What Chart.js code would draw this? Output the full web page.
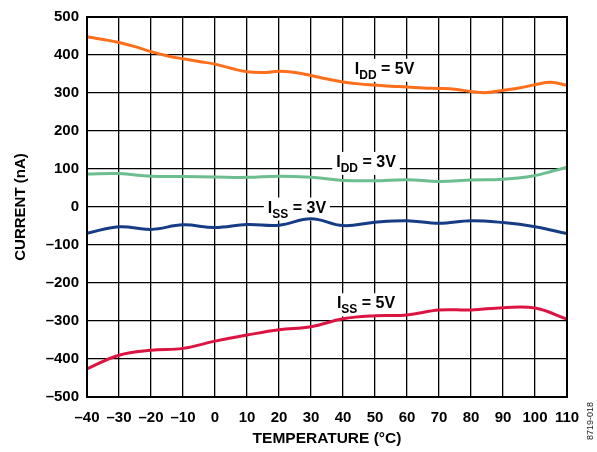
<!DOCTYPE html>
<html>
<head>
<meta charset="utf-8">
<script src="https://cdn.jsdelivr.net/npm/chart.js@4/dist/chart.umd.min.js"></script>
<style>
  html, body { margin: 0; padding: 0; background: #fff; }
  #wrap { width: 597px; height: 452px; position: relative; }
</style>
</head>
<body>
<div id="wrap"><canvas id="c" width="597" height="452"></canvas></div>
<script>
// Temperature sweep (°C)
const tempsFine = [-40,-35,-30,-25,-20,-15,-10,-5,0,5,10,15,20,25,30,35,40,45,50,55,60,65,70,75,80,85,90,95,100,105,110];
const temps = [-40,-30,-20,-10,0,10,20,30,40,50,60,70,80,90,100,110];

// Supply / ground currents (nA)
const idd5V = [448,441,433,422,409,398,390,383,376,365,356,354,357,354,346,337,329,324,321,318,316,313,312,310,304,301,307,313,322,328,320];
const idd3V = [87,88,81,80,79,78,81,78,70,69,72,67,71,73,83,105];
const iss3V = [-69,-52,-59,-47,-54,-46,-48,-31,-49,-40,-36,-43,-36,-41,-52,-70];
const iss5V = [-426,-390,-377,-372,-353,-337,-323,-315,-294,-286,-284,-271,-271,-265,-266,-295];

// Axis ranges
const yTicks = { min: -500, max: 500, step: 100 };
const xTicks = { min: -40, max: 110, step: 10 };

// Curve captions: I + subscript + rest, anchored at (temperature, current)
const captions = [
  { main: 'I', sub: 'DD', rest: ' = 5V', t: 53,   v: 361 },
  { main: 'I', sub: 'DD', rest: ' = 3V', t: 47.2, v: 116 },
  { main: 'I', sub: 'SS', rest: ' = 3V', t: 25.6, v: -4 },
  { main: 'I', sub: 'SS', rest: ' = 5V', t: 47.2, v: -256 }
];

const FONT = '"Liberation Sans", Arial, sans-serif';
const fmt = v => v < 0 ? '\u2013' + Math.abs(v) : String(v);
const pts = (xs, ys) => xs.map((x, i) => ({ x: x, y: ys[i] }));

const frame = {
  id: 'frame',
  afterDatasetsDraw(chart) {
    const { ctx, chartArea: a } = chart;
    ctx.save();
    ctx.strokeStyle = '#000';
    ctx.lineWidth = 2;
    ctx.strokeRect(a.left, a.top, a.right - a.left, a.bottom - a.top);
    ctx.restore();
  }
};

function measureCaption(ctx, c) {
  ctx.font = 'bold 16px ' + FONT;
  const w1 = ctx.measureText(c.main).width;
  const w3 = ctx.measureText(c.rest).width;
  ctx.font = 'bold 12px ' + FONT;
  const w2 = ctx.measureText(c.sub).width;
  return { w1, w2, w3, total: w1 + w2 + w3 };
}

const captionPlugin = {
  id: 'captions',
  beforeDatasetsDraw(chart) {
    const { ctx, scales } = chart;
    ctx.save();
    captions.forEach(c => {
      const cx = scales.x.getPixelForValue(c.t);
      const cy = scales.y.getPixelForValue(c.v);
      const m = measureCaption(ctx, c);
      ctx.fillStyle = '#fff';
      ctx.fillRect(cx - m.total / 2 - 4, cy - 11, m.total + 8, 23);
    });
    ctx.restore();
  },
  afterDatasetsDraw(chart) {
    const { ctx, scales } = chart;
    ctx.save();
    ctx.fillStyle = '#000';
    ctx.textBaseline = 'alphabetic';
    ctx.textAlign = 'left';
    captions.forEach(c => {
      const cx = scales.x.getPixelForValue(c.t);
      const cy = scales.y.getPixelForValue(c.v);
      const m = measureCaption(ctx, c);
      let x = cx - m.total / 2;
      const base = cy + 4;
      ctx.font = 'bold 16px ' + FONT;
      ctx.fillText(c.main, x, base);
      x += m.w1;
      ctx.font = 'bold 12px ' + FONT;
      ctx.fillText(c.sub, x, base + 5);
      x += m.w2;
      ctx.font = 'bold 16px ' + FONT;
      ctx.fillText(c.rest, x, base);
    });
    // figure code at the right edge
    ctx.translate(591, 421);
    ctx.rotate(-Math.PI / 2);
    ctx.textAlign = 'center';
    ctx.textBaseline = 'middle';
    ctx.font = '9px ' + FONT;
    ctx.fillStyle = '#222';
    ctx.fillText('8719-018', 0, 0);
    ctx.restore();
  }
};

const line = (data, color) => ({
  data: data,
  borderColor: color,
  borderWidth: 3,
  pointRadius: 0,
  tension: 0.4,
  fill: false
});

new Chart(document.getElementById('c'), {
  type: 'line',
  data: {
    datasets: [
      line(pts(tempsFine, idd5V), '#FF6E1A'),
      line(pts(temps, idd3V), '#6DBE8F'),
      line(pts(temps, iss3V), '#173C86'),
      line(pts(temps, iss5V), '#DC1442')
    ]
  },
  options: {
    responsive: false,
    animation: false,
    devicePixelRatio: 1,
    layout: { padding: { top: 10, right: 30, left: 0, bottom: 0 } },
    plugins: { legend: { display: false }, tooltip: { enabled: false } },
    scales: {
      x: {
        type: 'linear',
        min: xTicks.min, max: xTicks.max,
        ticks: { stepSize: xTicks.step, callback: fmt, color: '#000', padding: 12,
                 maxRotation: 0, autoSkip: false, font: { family: FONT, weight: 'bold', size: 15 } },
        grid: { color: '#000', lineWidth: 1.3, drawTicks: false },
        border: { color: '#000', width: 2 },
        title: { display: true, text: 'TEMPERATURE (°C)', color: '#000', padding: { top: 3 },
                 font: { family: FONT, weight: 'bold', size: 15.5 } },
        afterFit: s => { s.height = 55; }
      },
      y: {
        min: yTicks.min, max: yTicks.max,
        ticks: { stepSize: yTicks.step, callback: fmt, color: '#000', padding: 8,
                 font: { family: FONT, weight: 'bold', size: 15 } },
        grid: { color: '#000', lineWidth: 1.3, drawTicks: false },
        border: { color: '#000', width: 2 },
        title: { display: true, text: 'CURRENT (nA)', color: '#000', padding: { top: 12, bottom: 4 },
                 font: { family: FONT, weight: 'bold', size: 15 } },
        afterFit: s => { s.width = 87; }
      }
    }
  },
  plugins: [frame, captionPlugin]
});
</script>
</body>
</html>
